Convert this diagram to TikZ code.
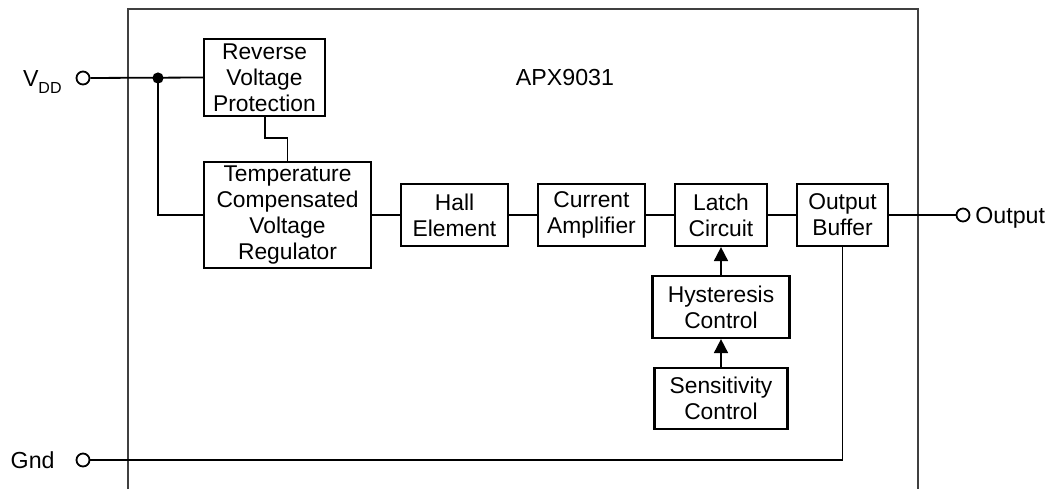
\documentclass[tikz,border=0pt]{standalone}
\usepackage{fontspec}
\setmainfont{Liberation Sans}
\usetikzlibrary{arrows.meta}

\tikzset{
  blk/.style={draw, line width=1.1pt, align=center, inner sep=0pt,
    font=\fontsize{11.4}{13}\selectfont},
  wire/.style={line width=0.9pt},
  pin/.style={circle, draw, line width=0.9pt, fill=white, inner sep=0pt, minimum size=6.5pt},
  lbl/.style={inner sep=0pt, font=\fontsize{11.6}{13}\selectfont}
}

\begin{document}
\begin{tikzpicture}[x=0.5pt, y=-0.5pt]
  \useasboundingbox (0,0) rectangle (1057,489);
  % chip outline (open at the bottom)
  \draw[line width=0.7pt, black!75] (128,489) -- (128,9) -- (918,9) -- (918,489);
  \node[lbl] (chip) at (565,78) {APX9031};

  % blocks
  \node[blk, minimum width=60.5pt, minimum height=38.5pt] (rvp) at (264.5,77.5) {Reverse\\Voltage\\Protection};
  \node[blk, minimum width=83.5pt, minimum height=53pt] (reg) at (287.5,215) {Temperature\\Compensated\\Voltage\\Regulator};
  \node[blk, minimum width=53.5pt, minimum height=31pt] (hall) at (454.5,215) {Hall\\Element};
  \node[blk, minimum width=53.5pt, minimum height=31pt] (amp) at (591.5,215) {Current\\Amplifier};
  \node[blk, minimum width=46pt, minimum height=31pt] (latch) at (721,215) {Latch\\Circuit};
  \node[blk, minimum width=45.5pt, minimum height=31pt] (obuf) at (842.5,215) {Output\\Buffer};
  \node[blk, minimum width=68.5pt, minimum height=31pt] (hyst) at (721,307) {Hysteresis\\Control};
  \node[blk, minimum width=66.5pt, minimum height=30.5pt] (sens) at (721,398.5) {Sensitivity\\Control};

  % pins
  \node[pin] (vdd) at (83,78) {};
  \node[pin] (gnd) at (83,460) {};
  \node[pin] (out) at (963,215) {};
  \node[lbl, anchor=east] (vddlbl) at (62,82) {V\raisebox{-0.55ex}{\fontsize{8}{8}\selectfont DD}};
  \node[lbl, anchor=east] (gndlbl) at (55,460) {Gnd};
  \node[lbl, anchor=west] (outlbl) at (975,218) {Output};

  % wiring
  \coordinate (jn) at (158,78);
  \draw[wire] (vdd) -- (rvp.west);
  \fill (jn) circle (2.8pt);
  \draw[wire] (jn) |- (reg.west);
  \draw[wire] (265,116) -- (265,138) -- (287.5,138) -- (reg.north);
  \draw[wire] (reg.east) -- (hall.west);
  \draw[wire] (hall.east) -- (amp.west);
  \draw[wire] (amp.east) -- (latch.west);
  \draw[wire] (latch.east) -- (obuf.west);
  \draw[wire] (obuf.east) -- (out);
  \draw[wire] (gnd) -| (obuf.south);
  \draw[wire, -{Triangle[length=7pt, width=7pt]}] (hyst.north) -- (latch.south);
  \draw[wire, -{Triangle[length=7pt, width=7pt]}] (sens.north) -- (hyst.south);
\end{tikzpicture}
\end{document}
